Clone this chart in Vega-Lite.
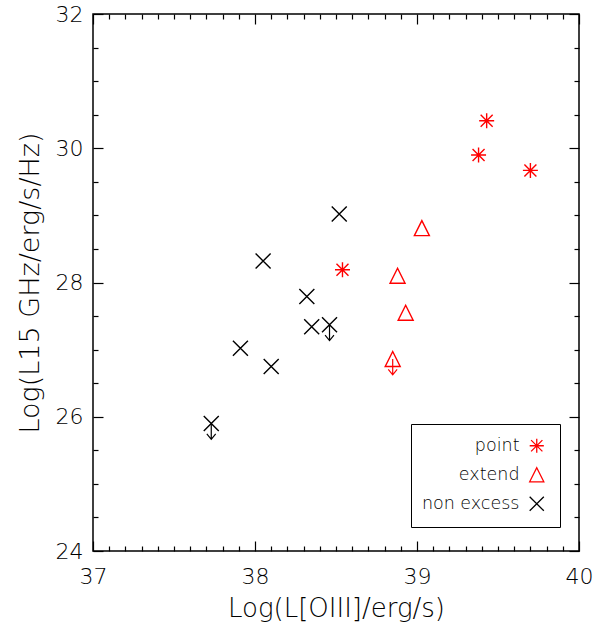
{
  "$schema": "https://vega.github.io/schema/vega-lite/v6.json",
  "width": 486,
  "height": 537,
  "autosize": {"type": "none"},
  "padding": {"left": 93, "top": 14, "right": 17, "bottom": 73},
  "background": "white",
  "config": {
    "view": {"stroke": "black", "strokeWidth": 1.5},
    "font": "DejaVu Sans",
    "axis": {
      "grid": false,
      "domain": false,
      "tickColor": "black",
      "tickWidth": 1.2,
      "labelColor": "black",
      "titleColor": "black",
      "labelFont": "DejaVu Sans",
      "titleFont": "DejaVu Sans",
      "labelFontWeight": 200,
      "titleFontWeight": 200,
      "labelFontSize": 22,
      "titleFontSize": 26,
      "labelOverlap": false,
      "labelFlush": false
    },
    "legend": {
      "orient": "none",
      "legendX": 318,
      "legendY": 410,
      "strokeColor": "black",
      "fillColor": "white",
      "padding": 13,
      "rowPadding": 9,
      "labelFont": "DejaVu Sans",
      "labelFontWeight": 200,
      "labelFontSize": 17.5,
      "labelColor": "black",
      "labelAlign": "right",
      "labelOffset": -26,
      "symbolOffset": 104,
      "symbolSize": 200,
      "symbolStrokeWidth": 1.3,
      "symbolType": "circle"
    }
  },
  "data": {
    "values": [
      {"type": "point", "x": 38.54, "y": 28.19, "upper": false},
      {"type": "point", "x": 39.43, "y": 30.41, "upper": false},
      {"type": "point", "x": 39.38, "y": 29.90, "upper": false},
      {"type": "point", "x": 39.70, "y": 29.67, "upper": false},
      {"type": "extend", "x": 39.03, "y": 28.81, "upper": false},
      {"type": "extend", "x": 38.88, "y": 28.10, "upper": false},
      {"type": "extend", "x": 38.93, "y": 27.55, "upper": false},
      {"type": "extend", "x": 38.85, "y": 26.86, "upper": true},
      {"type": "non excess", "x": 38.05, "y": 28.32, "upper": false},
      {"type": "non excess", "x": 38.52, "y": 29.02, "upper": false},
      {"type": "non excess", "x": 38.32, "y": 27.79, "upper": false},
      {"type": "non excess", "x": 38.35, "y": 27.34, "upper": false},
      {"type": "non excess", "x": 38.46, "y": 27.37, "upper": true},
      {"type": "non excess", "x": 37.91, "y": 27.02, "upper": false},
      {"type": "non excess", "x": 38.10, "y": 26.75, "upper": false},
      {"type": "non excess", "x": 37.73, "y": 25.90, "upper": true}
    ]
  },
  "layer": [
    {
      "mark": {"type": "point", "filled": false, "size": 225, "strokeWidth": 1.4, "opacity": 1},
      "encoding": {
        "x": {
          "field": "x", "type": "quantitative",
          "scale": {"domain": [37, 40], "nice": false, "zero": false},
          "axis": {
            "orient": "bottom",
            "title": "Log(L[OIII]/erg/s)",
            "titlePadding": 3,
            "values": [37,37.1,37.2,37.3,37.4,37.5,37.6,37.7,37.8,37.9,38,38.1,38.2,38.3,38.4,38.5,38.6,38.7,38.8,38.9,39,39.1,39.2,39.3,39.4,39.5,39.6,39.7,39.8,39.9,40],
            "tickSize": {"condition": {"test": "datum.value % 1 === 0", "value": -10}, "value": -5},
            "labelExpr": "datum.value % 1 === 0 ? format(datum.value, 'd') : ''",
            "labelPadding": 25
          }
        },
        "y": {
          "field": "y", "type": "quantitative",
          "scale": {"domain": [24, 32], "nice": false, "zero": false},
          "axis": {
            "orient": "left",
            "title": "Log(L15 GHz/erg/s/Hz)",
            "titleFontSize": 27,
            "titlePadding": 11,
            "values": [24,24.5,25,25.5,26,26.5,27,27.5,28,28.5,29,29.5,30,30.5,31,31.5,32],
            "tickSize": {"condition": {"test": "datum.value % 2 === 0", "value": -10}, "value": -5},
            "labelExpr": "datum.value % 2 === 0 ? format(datum.value, 'd') : ''",
            "labelPadding": 20
          }
        },
        "shape": {
          "field": "type", "type": "nominal",
          "scale": {
            "domain": ["point", "extend", "non excess"],
            "range": [
              "M0,-1L0,1M-1,0L1,0M-0.8,-0.8L0.8,0.8M-0.8,0.8L0.8,-0.8",
              "M0,-1L1,1L-1,1Z",
              "M-1,-1L1,1M-1,1L1,-1"
            ]
          },
          "legend": {"title": null}
        },
        "color": {
          "field": "type", "type": "nominal",
          "scale": {"domain": ["point", "extend", "non excess"], "range": ["#ff0000", "#ff0000", "#000000"]},
          "legend": {"title": null}
        }
      }
    },
    {
      "transform": [{"filter": "datum.upper"}],
      "mark": {"type": "point", "filled": false, "size": 1000, "strokeWidth": 1.2, "opacity": 1, "shape": "M0,0L0,1M-0.28,0.66L0,1L0.28,0.66"},
      "encoding": {
        "x": {
          "field": "x", "type": "quantitative",
          "scale": {"domain": [37, 40], "nice": false, "zero": false},
          "axis": {
            "orient": "top",
            "title": null,
            "labels": false,
            "values": [37,37.1,37.2,37.3,37.4,37.5,37.6,37.7,37.8,37.9,38,38.1,38.2,38.3,38.4,38.5,38.6,38.7,38.8,38.9,39,39.1,39.2,39.3,39.4,39.5,39.6,39.7,39.8,39.9,40],
            "tickSize": {"condition": {"test": "datum.value % 1 === 0", "value": -10}, "value": -5}
          }
        },
        "y": {
          "field": "y", "type": "quantitative",
          "scale": {"domain": [24, 32], "nice": false, "zero": false},
          "axis": {
            "orient": "right",
            "title": null,
            "labels": false,
            "values": [24,24.5,25,25.5,26,26.5,27,27.5,28,28.5,29,29.5,30,30.5,31,31.5,32],
            "tickSize": {"condition": {"test": "datum.value % 2 === 0", "value": -10}, "value": -5}
          }
        },
        "color": {
          "condition": {"test": "datum.type === 'extend'", "value": "#ff0000"},
          "value": "#000000"
        }
      }
    }
  ],
  "resolve": {"axis": {"x": "independent", "y": "independent"}}
}
